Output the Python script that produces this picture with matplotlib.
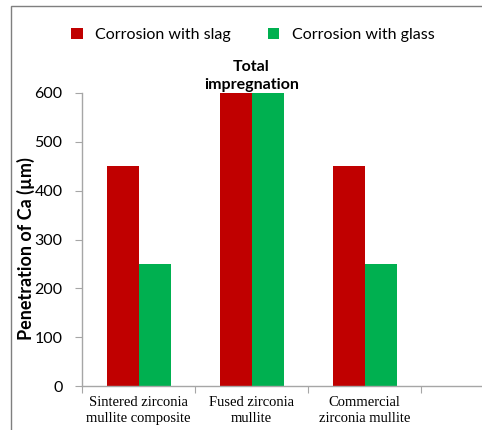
import matplotlib.pyplot as plt
import numpy as np
from matplotlib.patches import Rectangle

# Data
categories = ["Sintered zirconia\nmullite composite", "Fused zirconia\nmullite",
              "Commercial\nzirconia mullite"]
slag = [450, 600, 450]
glass = [250, 600, 250]
series_names = ["Corrosion with slag", "Corrosion with glass"]
yticks = [0, 100, 200, 300, 400, 500, 600]

RED = "#C00000"
GREEN = "#00B050"
AXIS_GRAY = "#A6A6A6"

W, H = 482, 430
fig = plt.figure(figsize=(W / 100, H / 100), dpi=100)

# axes placed in pixel terms of the reference
left, right, bottom, top = 82, 482, 386, 93
ax = fig.add_axes([left / W, (H - bottom) / H, (right - left) / W, (bottom - top) / H])

slot_px = 113
x = np.arange(len(categories))
bw = 32 / slot_px
ax.bar(x - bw / 2, slag, width=bw, color=RED, label=series_names[0])
ax.bar(x + bw / 2, glass, width=bw, color=GREEN, label=series_names[1])

ax.set_xlim(-0.5, -0.5 + (right - left) / slot_px)
ax.set_ylim(0, 600)

for s in ["top", "right"]:
    ax.spines[s].set_visible(False)
for s in ["left", "bottom"]:
    ax.spines[s].set_color(AXIS_GRAY)
    ax.spines[s].set_linewidth(1)

ax.set_yticks(yticks)
ax.tick_params(axis="y", length=5, color=AXIS_GRAY, pad=9, labelsize=11.5)
for lab in ax.get_yticklabels():
    lab.set_fontfamily("Lato")

# category boundary ticks + labels at category centres
ax.set_xticks(np.arange(len(categories) + 1) - 0.5)
ax.set_xticklabels([])
ax.tick_params(axis="x", which="major", length=5, color=AXIS_GRAY)
ax.set_xticks(x, minor=True)
ax.set_xticklabels(categories, minor=True, fontfamily="Liberation Serif", fontsize=10.5,
                   linespacing=1.3)
ax.tick_params(axis="x", which="minor", length=0, pad=7)

ax.set_ylabel("Penetration of Ca (\u00b5m)", fontsize=13, fontweight="bold", fontfamily="Lato")
ax.yaxis.set_label_coords(-0.118, 0.47)

ax.annotate("Total\nimpregnation", xy=(1, 600), xytext=(0, 1), textcoords="offset points",
            ha="center", va="bottom", fontsize=11.5, fontweight="bold", fontfamily="Lato",
            linespacing=1.3)

leg = fig.legend(loc="center", bbox_to_anchor=(253 / W, 1 - 35 / H), ncol=2, frameon=False,
                 handlelength=0.7, handleheight=0.7, handletextpad=0.8, columnspacing=2.3,
                 prop={"family": "Lato", "size": 11.5})

# outer chart border (partially cropped in the reference)
fig.patches.append(Rectangle((11 / W, -0.05), 1.2, 1 - 6 / H + 0.05, transform=fig.transFigure,
                             fill=False, edgecolor="#7F7F7F", linewidth=1))

fig.savefig("out.png", dpi=100)
